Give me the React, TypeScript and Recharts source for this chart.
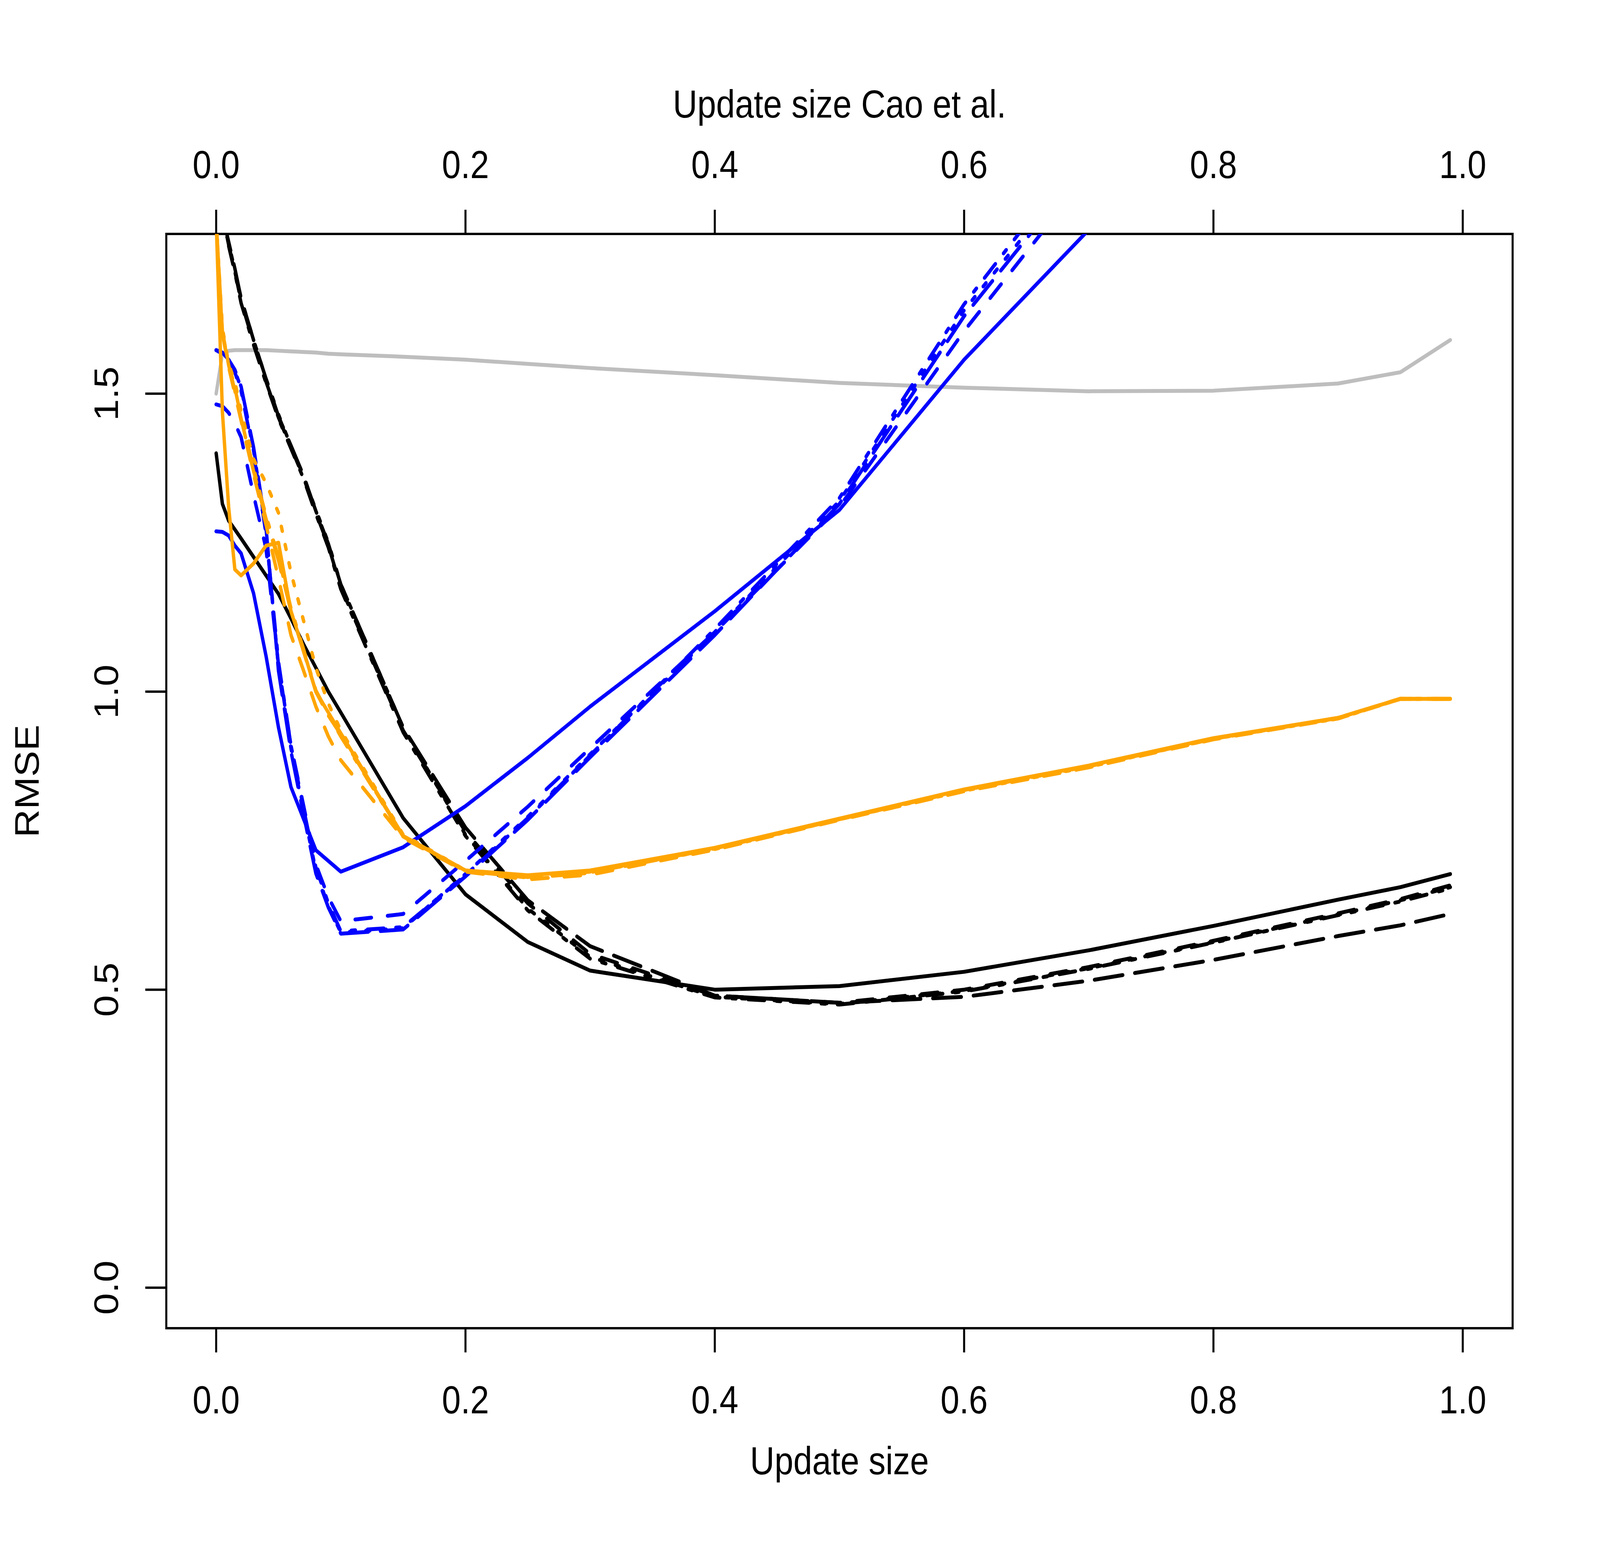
import { LineChart, Line, XAxis, YAxis, ReferenceArea } from 'recharts';

// canvas + plot box (px, at reference size)
const W = 4724;
const H = 4015;
const PLOT_LEFT = 491;
const PLOT_TOP = 599;
const PLOT_RIGHT = 4466;
const PLOT_BOTTOM = 3401;
const TOP_AXIS_H = 200;
const BOTTOM_AXIS_H = 300;
const Y_AXIS_W = 300;
const FONT = '"Liberation Sans", Arial, Helvetica, sans-serif';
const FS = 100;
const LWD = 10;

const X_DOMAIN: [number, number] = [-0.04, 1.04];
const Y_DOMAIN: [number, number] = [-0.068, 1.768];
const xTicks = [0, 0.2, 0.4, 0.6, 0.8, 1.0];
const yTicks = [0, 0.5, 1.0, 1.5];

// update sizes
const xs = [0, 0.005, 0.01, 0.015, 0.02, 0.03, 0.04, 0.05, 0.06, 0.07, 0.08, 0.09, 0.1, 0.15, 0.2, 0.25, 0.3, 0.4, 0.5, 0.6, 0.7, 0.8, 0.9, 0.95, 0.99];

// RMSE per series
const gray = [1.50, 1.567, 1.572, 1.573, 1.573, 1.573, 1.573, 1.572, 1.571, 1.570, 1.569, 1.567, 1.566, 1.562, 1.557, 1.550, 1.543, 1.531, 1.518, 1.510, 1.504, 1.505, 1.517, 1.536, 1.590];

const blackSolid = [1.40, 1.315, 1.287, 1.272, 1.257, 1.226, 1.195, 1.164, 1.123, 1.080, 1.040, 1.000, 0.965, 0.788, 0.660, 0.580, 0.532, 0.500, 0.506, 0.530, 0.566, 0.607, 0.651, 0.672, 0.694];
const blackDashed = [1.95, 1.80, 1.750, 1.705, 1.655, 1.585, 1.520, 1.460, 1.410, 1.360, 1.300, 1.245, 1.175, 0.935, 0.765, 0.645, 0.560, 0.490, 0.478, 0.500, 0.538, 0.582, 0.628, 0.652, 0.675];
const blackDotted = [1.95, 1.80, 1.752, 1.708, 1.660, 1.590, 1.525, 1.465, 1.412, 1.362, 1.305, 1.250, 1.180, 0.940, 0.760, 0.636, 0.555, 0.488, 0.476, 0.498, 0.536, 0.580, 0.626, 0.650, 0.672];
const blackDotDash = [1.95, 1.80, 1.748, 1.703, 1.652, 1.582, 1.518, 1.458, 1.408, 1.358, 1.298, 1.242, 1.172, 0.932, 0.758, 0.633, 0.552, 0.487, 0.475, 0.497, 0.535, 0.579, 0.625, 0.648, 0.670];
const blackLongDash = [1.95, 1.80, 1.755, 1.710, 1.660, 1.590, 1.525, 1.462, 1.413, 1.363, 1.303, 1.248, 1.180, 0.940, 0.772, 0.650, 0.573, 0.490, 0.478, 0.488, 0.515, 0.550, 0.590, 0.608, 0.627];

const blueSolid = [1.269, 1.268, 1.262, 1.245, 1.232, 1.165, 1.060, 0.940, 0.840, 0.787, 0.734, 0.716, 0.698, 0.739, 0.808, 0.889, 0.975, 1.135, 1.305, 1.557, 1.775, 2.000, 2.250, 2.370, 2.470];
const blueDashed = [1.482, 1.479, 1.468, 1.450, 1.427, 1.330, 1.240, 1.045, 0.910, 0.810, 0.710, 0.655, 0.615, 0.627, 0.716, 0.807, 0.905, 1.100, 1.310, 1.605, 1.870, 2.150, 2.450, 2.600, 2.700];
const blueDotted = [1.573, 1.568, 1.556, 1.538, 1.510, 1.405, 1.270, 1.040, 0.905, 0.800, 0.700, 0.640, 0.596, 0.603, 0.694, 0.790, 0.895, 1.100, 1.320, 1.640, 1.900, 2.200, 2.500, 2.650, 2.750];
const blueDotDash = [1.573, 1.567, 1.555, 1.536, 1.505, 1.400, 1.265, 1.050, 0.910, 0.805, 0.705, 0.645, 0.598, 0.605, 0.692, 0.788, 0.893, 1.105, 1.325, 1.650, 1.920, 2.220, 2.520, 2.670, 2.770];
const blueLongDash = [1.573, 1.569, 1.557, 1.540, 1.512, 1.410, 1.275, 1.035, 0.900, 0.795, 0.695, 0.638, 0.594, 0.601, 0.690, 0.785, 0.890, 1.095, 1.315, 1.630, 1.890, 2.190, 2.490, 2.640, 2.740];

const orangeSolid = [1.79, 1.47, 1.31, 1.205, 1.195, 1.215, 1.245, 1.250, 1.135, 1.070, 1.000, 0.965, 0.930, 0.758, 0.700, 0.692, 0.700, 0.738, 0.787, 0.836, 0.876, 0.922, 0.956, 0.988, 0.988];
const orangeDashed = [1.79, 1.60, 1.545, 1.500, 1.455, 1.365, 1.280, 1.190, 1.095, 1.036, 0.975, 0.925, 0.885, 0.755, 0.698, 0.685, 0.693, 0.735, 0.785, 0.833, 0.873, 0.920, 0.955, 0.988, 0.988];
const orangeDotted = [1.79, 1.61, 1.550, 1.520, 1.470, 1.390, 1.350, 1.300, 1.200, 1.120, 1.040, 0.980, 0.935, 0.760, 0.700, 0.690, 0.698, 0.736, 0.786, 0.834, 0.874, 0.921, 0.955, 0.988, 0.988];
const orangeDotDash = [1.79, 1.60, 1.550, 1.510, 1.460, 1.375, 1.295, 1.225, 1.140, 1.072, 1.002, 0.962, 0.925, 0.757, 0.700, 0.688, 0.696, 0.737, 0.786, 0.835, 0.875, 0.921, 0.956, 0.988, 0.988];
const orangeLongDash = [1.79, 1.605, 1.548, 1.505, 1.458, 1.370, 1.290, 1.220, 1.135, 1.068, 1.000, 0.960, 0.928, 0.757, 0.699, 0.689, 0.697, 0.737, 0.786, 0.835, 0.875, 0.921, 0.956, 0.988, 0.988];

// R-like line types (unit 12px, round caps)
const LTY = {
  solid: undefined,
  dashed: '48 48',
  dotted: '12 36',
  dotdash: '12 36 48 36',
  longdash: '84 36',
};

const series = [
  { key: 'gray', values: gray, color: '#BEBEBE', dash: LTY.solid },
  { key: 'blackSolid', values: blackSolid, color: '#000000', dash: LTY.solid },
  { key: 'blackDashed', values: blackDashed, color: '#000000', dash: LTY.dashed },
  { key: 'blackDotted', values: blackDotted, color: '#000000', dash: LTY.dotted },
  { key: 'blackDotDash', values: blackDotDash, color: '#000000', dash: LTY.dotdash },
  { key: 'blackLongDash', values: blackLongDash, color: '#000000', dash: LTY.longdash },
  { key: 'blueSolid', values: blueSolid, color: '#0000FF', dash: LTY.solid },
  { key: 'blueDashed', values: blueDashed, color: '#0000FF', dash: LTY.dashed },
  { key: 'blueDotted', values: blueDotted, color: '#0000FF', dash: LTY.dotted },
  { key: 'blueDotDash', values: blueDotDash, color: '#0000FF', dash: LTY.dotdash },
  { key: 'blueLongDash', values: blueLongDash, color: '#0000FF', dash: LTY.longdash },
  { key: 'orangeSolid', values: orangeSolid, color: '#FFA500', dash: LTY.solid },
  { key: 'orangeDashed', values: orangeDashed, color: '#FFA500', dash: LTY.dashed },
  { key: 'orangeDotted', values: orangeDotted, color: '#FFA500', dash: LTY.dotted },
  { key: 'orangeDotDash', values: orangeDotDash, color: '#FFA500', dash: LTY.dotdash },
  { key: 'orangeLongDash', values: orangeLongDash, color: '#FFA500', dash: LTY.longdash },
];

const data = xs.map((x, i) => {
  const row: Record<string, number> = { x };
  series.forEach(s => { row[s.key] = s.values[i]; });
  return row;
});

const BottomTick = (p: any) => (
  <text x={p.x} y={PLOT_BOTTOM + 218} textAnchor="middle" fontFamily={FONT} fontSize={FS} fill="#000">
    {Number(p.payload.value).toFixed(1)}
  </text>
);

const TopTick = (p: any) => (
  <text x={p.x} y={PLOT_TOP - 143} textAnchor="middle" fontFamily={FONT} fontSize={FS} fill="#000">
    {Number(p.payload.value).toFixed(1)}
  </text>
);

const LeftTick = (p: any) => {
  const bx = PLOT_LEFT - 143;
  return (
    <text x={bx} y={p.y} transform={`rotate(-90, ${bx}, ${p.y})`} textAnchor="middle" fontFamily={FONT} fontSize={FS} fill="#000">
      {Number(p.payload.value).toFixed(1)}
    </text>
  );
};

const tickLine = { stroke: '#000', strokeWidth: 6 };

// the viewport can come out smaller than 4724x4015 css px; stretch the figure to fill it
const fitScale = () => {
  if (typeof window === 'undefined' || !window.innerWidth || !window.innerHeight) return { sx: 1, sy: 1 };
  return {
    sx: Math.min(1, window.innerWidth / W),
    sy: Math.min(1, window.innerHeight / H),
  };
};

export default function App() {
  const { sx, sy } = fitScale();
  const cx = (PLOT_LEFT + PLOT_RIGHT) / 2;
  const cy = (PLOT_TOP + PLOT_BOTTOM) / 2;
  return (
    <div style={{ position: 'absolute', left: 0, top: 0, width: W * sx, height: H * sy, overflow: 'hidden', background: '#fff' }}>
      <div style={{ position: 'relative', width: W, height: H, transform: `scale(${sx}, ${sy})`, transformOrigin: '0 0' }}>
        <LineChart
          width={W}
          height={H}
          data={data}
          margin={{
            top: PLOT_TOP - TOP_AXIS_H,
            left: PLOT_LEFT - Y_AXIS_W,
            right: W - PLOT_RIGHT,
            bottom: H - PLOT_BOTTOM - BOTTOM_AXIS_H,
          }}
        >
          <XAxis
            xAxisId={0}
            dataKey="x"
            type="number"
            domain={X_DOMAIN}
            allowDataOverflow
            ticks={xTicks}
            interval={0}
            height={BOTTOM_AXIS_H}
            axisLine={false}
            tickLine={tickLine}
            tickSize={62}
            tickMargin={0}
            tick={BottomTick}
          />
          <XAxis
            xAxisId="top"
            orientation="top"
            dataKey="x"
            type="number"
            domain={X_DOMAIN}
            allowDataOverflow
            ticks={xTicks}
            interval={0}
            height={TOP_AXIS_H}
            axisLine={false}
            tickLine={tickLine}
            tickSize={62}
            tickMargin={0}
            tick={TopTick}
          />
          <YAxis
            type="number"
            domain={Y_DOMAIN}
            allowDataOverflow
            ticks={yTicks}
            interval={0}
            width={Y_AXIS_W}
            axisLine={false}
            tickLine={tickLine}
            tickSize={62}
            tickMargin={0}
            tick={LeftTick}
          />
          {series.map(sr => (
            <Line
              key={sr.key}
              dataKey={sr.key}
              type="linear"
              stroke={sr.color}
              strokeWidth={LWD}
              strokeDasharray={sr.dash}
              strokeLinecap="round"
              strokeLinejoin="round"
              dot={false}
              activeDot={false}
              isAnimationActive={false}
            />
          ))}
          <ReferenceArea
            x1={X_DOMAIN[0]}
            x2={X_DOMAIN[1]}
            y1={Y_DOMAIN[0]}
            y2={Y_DOMAIN[1]}
            fill="none"
            fillOpacity={0}
            stroke="#000"
            strokeWidth={6}
            ifOverflow="visible"
          />
        </LineChart>
        <svg width={W} height={H} style={{ position: 'absolute', left: 0, top: 0, pointerEvents: 'none' }}>
          <text x={cx} y={PLOT_TOP - 298} textAnchor="middle" fontFamily={FONT} fontSize={FS} fill="#000">
            Update size Cao et al.
          </text>
          <text x={cx} y={PLOT_BOTTOM + 374} textAnchor="middle" fontFamily={FONT} fontSize={FS} fill="#000">
            Update size
          </text>
          <text x={114} y={cy} transform={`rotate(-90, 114, ${cy})`} textAnchor="middle" fontFamily={FONT} fontSize={FS} fill="#000">
            RMSE
          </text>
        </svg>
      </div>
    </div>
  );
}
